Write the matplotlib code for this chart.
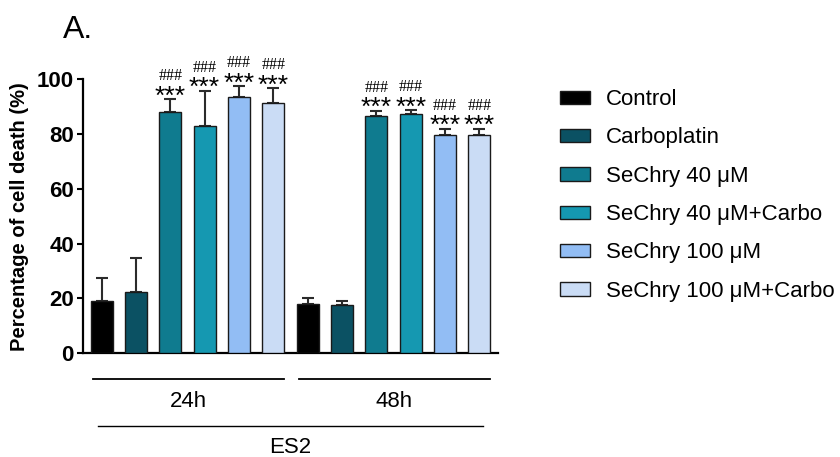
import numpy as np
import matplotlib.pyplot as plt

plt.rcParams['font.family'] = ['Liberation Sans', 'DejaVu Sans']

treatments = ['Control', 'Carboplatin', 'SeChry 40 μM', 'SeChry 40 μM+Carbo',
              'SeChry 100 μM', 'SeChry 100 μM+Carbo']
colors = ['#000000', '#0b5163', '#0f7b8f', '#1598b1', '#92bdf4', '#cadcf5']
times = ['24h', '48h']
cell_line = 'ES2'

mean_24h = [19.0, 22.2, 87.8, 83.0, 93.5, 91.3]
sd_24h = [8.3, 12.4, 4.8, 12.6, 3.9, 5.3]
mean_48h = [18.0, 17.5, 86.6, 87.3, 79.6, 79.6]
sd_48h = [2.0, 1.7, 1.8, 1.3, 2.2, 2.2]
# significance marks per bar (vs control / vs carboplatin)
stars = ['', '', '***', '***', '***', '***']
hashes = ['', '', '###', '###', '###', '###']

fig = plt.figure(figsize=(8.4, 4.57), dpi=100)
ax = fig.add_axes([0.0988, 0.2269, 0.494, 0.6002])

means = [mean_24h, mean_48h]
sds = [sd_24h, sd_48h]
n = len(treatments)
for g in range(len(times)):
    x = np.arange(n) + g * n
    ax.bar(x, means[g], width=0.64, color=colors, edgecolor='#1a1a1a',
           linewidth=1.0, zorder=3)
    ax.errorbar(x, means[g], yerr=[np.zeros(n), sds[g]], fmt='none',
                ecolor='#2b2b2b', elinewidth=1.5, capsize=4.2, capthick=1.5,
                zorder=2)
    for i in range(n):
        if not stars[i]:
            continue
        top = means[g][i] + sds[g][i]
        ax.annotate(stars[i], (x[i], top), xytext=(0, 2.0),
                    textcoords='offset points', ha='center', va='center',
                    fontsize=19, family='Liberation Sans',
                    annotation_clip=False)
        ax.annotate(hashes[i], (x[i], top), xytext=(0, 16.5),
                    textcoords='offset points', ha='center', va='center',
                    fontsize=11.5, family='Liberation Serif',
                    annotation_clip=False)

ax.set_xlim(-0.54, 2 * n - 0.46)
ax.set_ylim(0, 100)
ax.set_yticks(np.arange(0, 101, 20))
ax.set_xticks([])
for lbl in ax.get_yticklabels():
    lbl.set_fontweight('bold')
ax.tick_params(axis='y', labelsize=16, length=4.5, width=1.5, pad=2)
ax.spines['top'].set_visible(False)
ax.spines['right'].set_visible(False)
ax.spines['left'].set_linewidth(1.6)
ax.spines['bottom'].set_linewidth(1.6)
ax.set_ylabel('Percentage of cell death (%)', fontsize=14.5,
              fontweight='bold', labelpad=6)

# group brackets below the axis
trans = ax.get_xaxis_transform()
for g, t in enumerate(times):
    x0, x1 = g * n - 0.25, g * n + n - 0.7
    ax.plot([x0, x1], [-0.094, -0.094], color='black', lw=1.3,
            transform=trans, clip_on=False)
    ax.text((x0 + x1) / 2, -0.177, t, transform=trans, ha='center',
            va='center', fontsize=16)
ax.plot([-0.11, 2 * n - 0.9], [-0.265, -0.265], color='black', lw=1.0,
        transform=trans, clip_on=False)
ax.text((2 * n - 1) / 2, -0.345, cell_line, transform=trans, ha='center',
        va='center', fontsize=16)

handles = [plt.Rectangle((0, 0), 1, 1, facecolor=c, edgecolor='#1a1a1a',
                         linewidth=1.0) for c in colors]
fig.legend(handles, treatments, loc='upper left',
           bbox_to_anchor=(0.6667, 0.805), frameon=False, fontsize=16,
           handlelength=1.35, handleheight=0.55, handletextpad=0.7,
           labelspacing=0.78, borderpad=0, borderaxespad=0)

fig.text(0.075, 0.917, 'A.', fontsize=23, va='baseline', ha='left')

fig.savefig('out.png', dpi=100)
